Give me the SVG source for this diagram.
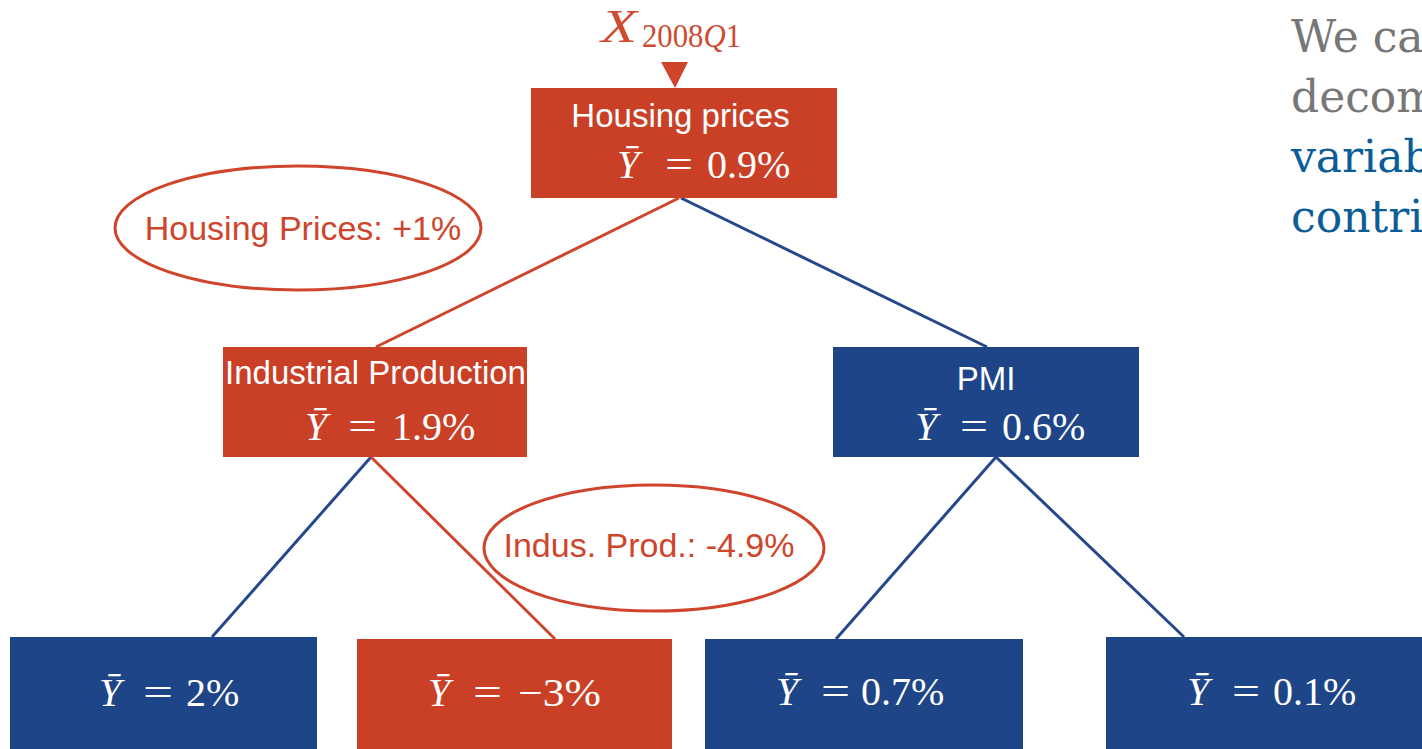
<svg xmlns="http://www.w3.org/2000/svg" width="1422" height="749" viewBox="0 0 1422 749">
<style>
.red{fill:#C94027}
.blue{fill:#1D4587}
.title{font-family:"Liberation Sans",Arial,sans-serif;font-size:33px;fill:#ffffff}
.math{font-family:"Liberation Serif","DejaVu Serif",serif;font-size:40px;fill:#ffffff}
.mi{font-style:italic}
.cr{stroke:#CF452C;stroke-width:3;fill:none}
.cb{stroke:#25488C;stroke-width:3;fill:none}
.oval{fill:#ffffff;stroke:#CF452C;stroke-width:3}
.olabel{font-family:"Liberation Sans",Arial,sans-serif;font-size:34px;fill:#CF452C}
.side{font-family:"DejaVu Serif","Liberation Serif",serif;font-size:44px}
.xl{font-family:"Liberation Serif","DejaVu Serif",serif;fill:#D04A30}
</style>
<rect width="1422" height="749" fill="#ffffff"/>
<g id="connectors">
<line class="cr" x1="679" y1="198" x2="376" y2="347"/>
<line class="cb" x1="681" y1="198" x2="987" y2="347"/>
<line class="cb" x1="371" y1="457" x2="212" y2="637"/>
<line class="cr" x1="371" y1="457" x2="555" y2="639"/>
<line class="cb" x1="996" y1="457" x2="836" y2="639"/>
<line class="cb" x1="996" y1="457" x2="1184" y2="637"/>
<polygon points="661,62 688,62 675,88" fill="#CF452C"/>
</g>
<g id="input-label">
<text class="xl" x="601" y="42" font-size="46" font-style="italic" textLength="36" lengthAdjust="spacingAndGlyphs">X</text>
<text class="xl" x="642" y="47" font-size="33" textLength="99" lengthAdjust="spacingAndGlyphs">2008<tspan font-style="italic">Q</tspan>1</text>
</g>
<g id="node-housing">
<rect class="red" x="531" y="88" width="306" height="110"/>
<text class="title" x="680.5" y="127" text-anchor="middle">Housing prices</text>
<text class="math mi" x="617" y="178">Ȳ</text>
<text class="math" x="665" y="178" textLength="28" lengthAdjust="spacingAndGlyphs">=</text>
<text class="math" x="707" y="178">0.9%</text>
</g>
<g id="node-industrial">
<rect class="red" x="223" y="347" width="304" height="110"/>
<text class="title" x="375.5" y="384" text-anchor="middle">Industrial Production</text>
<text class="math mi" x="305" y="440">Ȳ</text>
<text class="math" x="348" y="440" textLength="29" lengthAdjust="spacingAndGlyphs">=</text>
<text class="math" x="392" y="440">1.9%</text>
</g>
<g id="node-pmi">
<rect class="blue" x="833" y="347" width="306" height="110"/>
<text class="title" x="986" y="390" text-anchor="middle">PMI</text>
<text class="math mi" x="915" y="440">Ȳ</text>
<text class="math" x="960" y="440" textLength="28" lengthAdjust="spacingAndGlyphs">=</text>
<text class="math" x="1002" y="440">0.6%</text>
</g>
<g id="leaf-1">
<rect class="blue" x="10" y="637" width="307" height="112"/>
<text class="math mi" x="99" y="706">Ȳ</text>
<text class="math" x="143" y="706" textLength="30" lengthAdjust="spacingAndGlyphs">=</text>
<text class="math" x="186" y="706">2%</text>
</g>
<g id="leaf-2">
<rect class="red" x="357" y="639" width="315" height="110"/>
<text class="math mi" x="428" y="706">Ȳ</text>
<text class="math" x="473" y="706" textLength="29" lengthAdjust="spacingAndGlyphs">=</text>
<text class="math" x="518" y="706" textLength="83" lengthAdjust="spacingAndGlyphs">−3%</text>
</g>
<g id="leaf-3">
<rect class="blue" x="705" y="639" width="318" height="110"/>
<text class="math mi" x="776" y="705">Ȳ</text>
<text class="math" x="821" y="705" textLength="29" lengthAdjust="spacingAndGlyphs">=</text>
<text class="math" x="861" y="705">0.7%</text>
</g>
<g id="leaf-4">
<rect class="blue" x="1106" y="637" width="316" height="112"/>
<text class="math mi" x="1187" y="705">Ȳ</text>
<text class="math" x="1232" y="705" textLength="28" lengthAdjust="spacingAndGlyphs">=</text>
<text class="math" x="1273" y="705">0.1%</text>
</g>
<g id="label-housing">
<ellipse class="oval" cx="298" cy="228" rx="183" ry="62"/>
<text class="olabel" x="303" y="240" text-anchor="middle">Housing Prices: +1%</text>
</g>
<g id="label-indus">
<ellipse class="oval" cx="654" cy="548" rx="170" ry="63"/>
<text class="olabel" x="649" y="557" text-anchor="middle">Indus. Prod.: -4.9%</text>
</g>
<g id="side-text">
<text class="side" x="1291" y="52" fill="#777777">We ca</text>
<text class="side" x="1291" y="112" fill="#777777">decom</text>
<text class="side" x="1291" y="172" fill="#0B5D97">variab</text>
<text class="side" x="1291" y="232" fill="#0B5D97">contri</text>
</g>
</svg>
